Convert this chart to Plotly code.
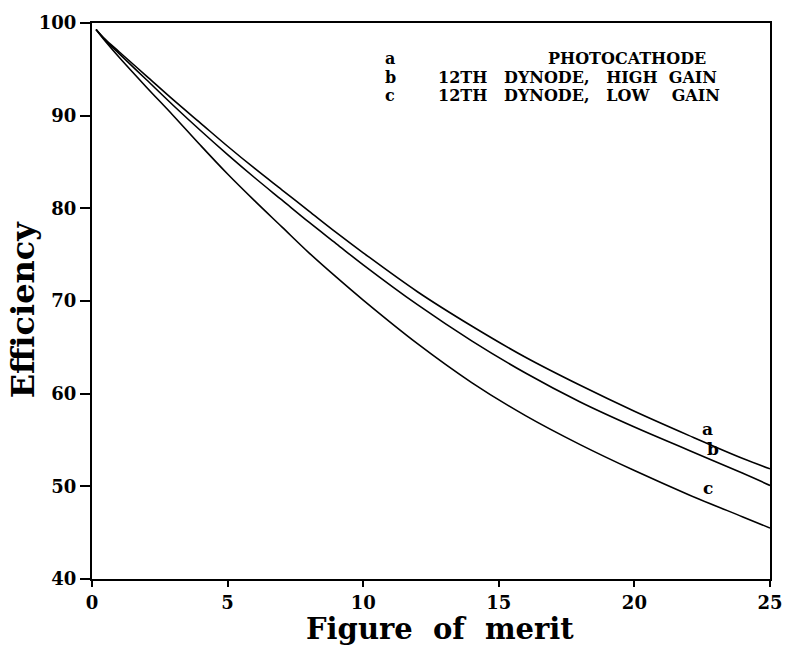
import plotly.graph_objects as go

# Figure of merit (x) and efficiency (%)
fom = [0.15, 0.5, 1, 2, 3, 4, 5, 6, 7, 8, 9, 10, 12, 14, 16, 18, 20, 22, 24, 25]
eff_a = [99.3, 98.2, 96.9, 94.3, 91.7, 89.2, 86.7, 84.3, 82.0, 79.7, 77.4, 75.2, 71.0, 67.3, 63.9, 60.9, 58.1, 55.5, 53.0, 51.9]
eff_b = [99.3, 98.1, 96.7, 93.9, 91.1, 88.4, 85.8, 83.3, 80.9, 78.5, 76.2, 73.9, 69.6, 65.7, 62.2, 59.1, 56.4, 53.9, 51.4, 50.1]
eff_c = [99.3, 98.0, 96.3, 93.1, 90.0, 86.8, 83.7, 80.8, 78.0, 75.2, 72.6, 70.1, 65.4, 61.2, 57.6, 54.5, 51.7, 49.1, 46.7, 45.5]

series_letters = ["a", "b", "c"]
legend_names = ["PHOTOCATHODE", "12TH DYNODE, HIGH GAIN", "12TH DYNODE, LOW GAIN"]
legend_html = ["PHOTOCATHODE",
               "12TH&nbsp;&nbsp;&nbsp;DYNODE,&nbsp;&nbsp;&nbsp;HIGH&nbsp;&nbsp;GAIN",
               "12TH&nbsp;&nbsp;&nbsp;DYNODE,&nbsp;&nbsp;&nbsp;LOW&nbsp;&nbsp;&nbsp;&nbsp;GAIN"]
curve_label_x = [22.7, 22.9, 22.7]
curve_label_y = [56.2, 54.0, 49.8]

x_ticks = [0, 5, 10, 15, 20, 25]
y_ticks = [40, 50, 60, 70, 80, 90, 100]

fig = go.Figure()
for ys, name in zip([eff_a, eff_b, eff_c], legend_names):
    fig.add_trace(go.Scatter(x=fom, y=ys, mode="lines", name=name,
                             line=dict(color="black", width=1.6, shape="spline", smoothing=1.0),
                             showlegend=False))

curve_font = dict(family="DejaVu Serif", size=17, color="black", weight="bold")
lab_font = dict(family="DejaVu Serif", size=16, color="black", weight="bold")
for letter, lx, ly in zip(series_letters, curve_label_x, curve_label_y):
    fig.add_annotation(x=lx, y=ly, text=letter, showarrow=False, font=curve_font,
                       xanchor="center", yanchor="middle")

# pixel -> paper helpers (plot area 92..779 x, 14..579 y)
def px(xp):
    return (xp - 92) / 687

def py(yp):
    return (579 - yp) / 565

rows_y = [50, 69, 88]
for letter, yp in zip(series_letters, rows_y):
    fig.add_annotation(xref="paper", yref="paper", x=px(394), y=py(yp), text=letter,
                       showarrow=False, font=lab_font, xanchor="center", yanchor="middle")

fig.add_annotation(xref="paper", yref="paper", x=px(716), y=py(rows_y[0]), text=legend_html[0],
                   showarrow=False, font=lab_font, xanchor="right", yanchor="middle")
for txt, yp in zip(legend_html[1:], rows_y[1:]):
    fig.add_annotation(xref="paper", yref="paper", x=px(441), y=py(yp), text=txt,
                       showarrow=False, font=lab_font, xanchor="left", yanchor="middle")

tick_font = dict(family="DejaVu Serif", size=18, color="black", weight="bold")
xtitle_font = dict(family="DejaVu Serif", size=29, color="black", weight="bold")
ytitle_font = dict(family="DejaVu Serif", size=32, color="black", weight="bold")

# Axis titles
fig.add_annotation(xref="paper", yref="paper", x=px(445), y=py(610),
                   text="Figure&nbsp;&nbsp;of&nbsp;&nbsp;merit", showarrow=False,
                   font=xtitle_font, xanchor="center", yanchor="top")
fig.add_annotation(xref="paper", yref="paper", x=px(22), y=py(305),
                   text="Efficiency", showarrow=False, textangle=-90,
                   font=ytitle_font, xanchor="center", yanchor="middle")

fig.update_xaxes(range=[0, 25], tickvals=x_ticks, ticks="outside", ticklen=6, tickwidth=2,
                 tickcolor="black", showline=True, linecolor="black", linewidth=2, mirror=True,
                 showgrid=False, zeroline=False, tickfont=tick_font)
fig.update_yaxes(range=[40, 100], tickvals=y_ticks, ticks="outside", ticklen=10, tickwidth=2,
                 tickcolor="black", showline=True, linecolor="black", linewidth=2, mirror=True,
                 showgrid=False, zeroline=False, tickfont=tick_font)

fig.update_layout(width=795, height=648, plot_bgcolor="white", paper_bgcolor="white",
                  margin=dict(l=92, r=16, t=14, b=69))

fig.write_html("out.html")
